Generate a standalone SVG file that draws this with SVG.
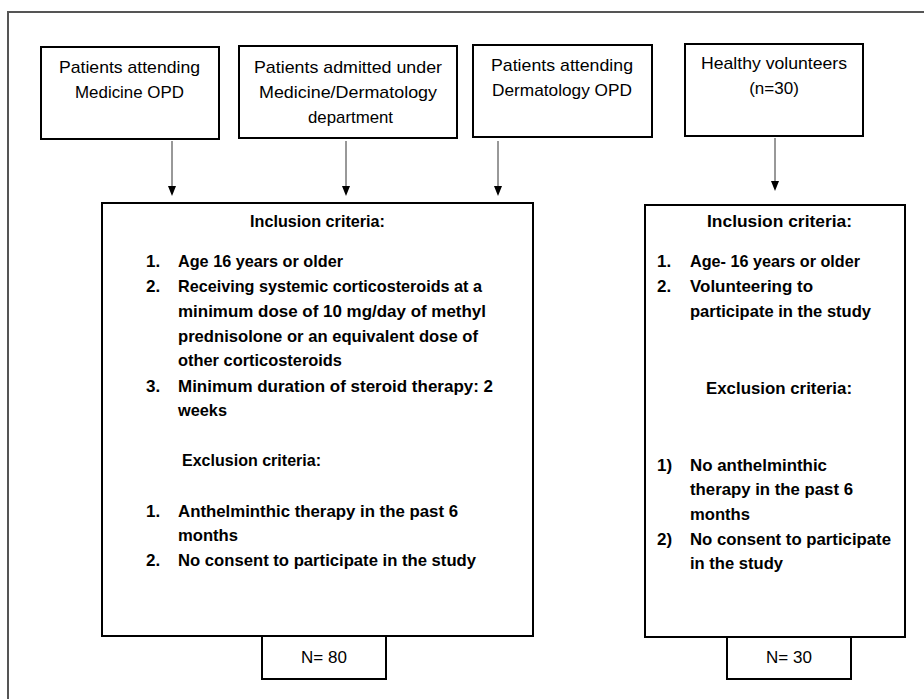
<svg xmlns="http://www.w3.org/2000/svg" width="924" height="699" viewBox="0 0 924 699">
<defs>
<style>
.box{fill:#fff;stroke:#000;stroke-width:2}
.t{font-family:"Liberation Sans",Arial,sans-serif;font-size:17px;fill:#000}
.c{text-anchor:middle}
.b{font-family:"Liberation Sans",Arial,sans-serif;font-size:17px;font-weight:bold;fill:#000}
.conn{stroke:#333;stroke-width:1;fill:none}
.head{fill:#000}
</style>
</defs>
<rect width="924" height="699" fill="#fff"/>
<path d="M8,699 L8,12 L924,12" fill="none" stroke="#555" stroke-width="2"/>

<g id="n1">
<rect class="box" x="41" y="47" width="178" height="92"/>
<text class="t" x="59" y="73" textLength="141" lengthAdjust="spacingAndGlyphs">Patients attending</text>
<text class="t" x="75" y="98" textLength="109" lengthAdjust="spacingAndGlyphs">Medicine OPD</text>
</g>
<g id="n2">
<rect class="box" x="239" y="46" width="218" height="92"/>
<text class="t" x="254" y="73" textLength="188" lengthAdjust="spacingAndGlyphs">Patients admitted under</text>
<text class="t" x="259" y="98" textLength="178" lengthAdjust="spacingAndGlyphs">Medicine/Dermatology</text>
<text class="t" x="308" y="123" textLength="85" lengthAdjust="spacingAndGlyphs">department</text>
</g>
<g id="n3">
<rect class="box" x="473" y="45" width="179" height="92"/>
<text class="t" x="491" y="71" textLength="142" lengthAdjust="spacingAndGlyphs">Patients attending</text>
<text class="t" x="492" y="96" textLength="140" lengthAdjust="spacingAndGlyphs">Dermatology OPD</text>
</g>
<g id="n4">
<rect class="box" x="685" y="44" width="178" height="92"/>
<text class="t" x="701" y="69" textLength="146" lengthAdjust="spacingAndGlyphs">Healthy volunteers</text>
<text class="t c" x="774" y="94">(n=30)</text>
</g>

<g id="connectors">
<line class="conn" x1="172" y1="141" x2="172" y2="187"/>
<path class="head" d="M168,186 L176,186 L172,196 Z"/>
<line class="conn" x1="346" y1="141" x2="346" y2="187"/>
<path class="head" d="M342,186 L350,186 L346,196 Z"/>
<line class="conn" x1="498" y1="141" x2="498" y2="187"/>
<path class="head" d="M494,186 L502,186 L498,196 Z"/>
<line class="conn" x1="775" y1="138" x2="775" y2="182"/>
<path class="head" d="M771,181 L779,181 L775,191 Z"/>
</g>

<g id="main">
<rect class="box" x="102" y="203" width="431" height="433"/>
<text class="b" x="250" y="227" textLength="135" lengthAdjust="spacingAndGlyphs">Inclusion criteria:</text>
<text class="b" x="146" y="267">1.</text><text class="b" x="178" y="267" textLength="165" lengthAdjust="spacingAndGlyphs">Age 16 years or older</text>
<text class="b" x="146" y="292">2.</text><text class="b" x="178" y="292" textLength="304" lengthAdjust="spacingAndGlyphs">Receiving systemic corticosteroids at a</text>
<text class="b" x="178" y="317" textLength="308" lengthAdjust="spacingAndGlyphs">minimum dose of 10 mg/day of methyl</text>
<text class="b" x="178" y="342" textLength="300" lengthAdjust="spacingAndGlyphs">prednisolone or an equivalent dose of</text>
<text class="b" x="178" y="366" textLength="164" lengthAdjust="spacingAndGlyphs">other corticosteroids</text>
<text class="b" x="146" y="392">3.</text><text class="b" x="178" y="392" textLength="315" lengthAdjust="spacingAndGlyphs">Minimum duration of steroid therapy: 2</text>
<text class="b" x="178" y="416" textLength="49" lengthAdjust="spacingAndGlyphs">weeks</text>
<text class="b" x="182" y="466" textLength="139" lengthAdjust="spacingAndGlyphs">Exclusion criteria:</text>
<text class="b" x="146" y="517">1.</text><text class="b" x="178" y="517" textLength="280" lengthAdjust="spacingAndGlyphs">Anthelminthic therapy in the past 6</text>
<text class="b" x="178" y="541" textLength="60" lengthAdjust="spacingAndGlyphs">months</text>
<text class="b" x="146" y="566">2.</text><text class="b" x="178" y="566" textLength="298" lengthAdjust="spacingAndGlyphs">No consent to participate in the study</text>
</g>

<g id="n80">
<rect class="box" x="262" y="636" width="124" height="43"/>
<text class="t c" x="324" y="663">N= 80</text>
</g>

<g id="right">
<rect class="box" x="645" y="205" width="260" height="432"/>
<text class="b" x="707" y="227" textLength="145" lengthAdjust="spacingAndGlyphs">Inclusion criteria:</text>
<text class="b" x="657" y="267">1.</text><text class="b" x="690" y="267" textLength="170" lengthAdjust="spacingAndGlyphs">Age- 16 years or older</text>
<text class="b" x="657" y="292">2.</text><text class="b" x="690" y="292" textLength="123" lengthAdjust="spacingAndGlyphs">Volunteering to</text>
<text class="b" x="690" y="317" textLength="181" lengthAdjust="spacingAndGlyphs">participate in the study</text>
<text class="b" x="706" y="394" textLength="146" lengthAdjust="spacingAndGlyphs">Exclusion criteria:</text>
<text class="b" x="657" y="471">1)</text><text class="b" x="690" y="471" textLength="137" lengthAdjust="spacingAndGlyphs">No anthelminthic</text>
<text class="b" x="690" y="495" textLength="163" lengthAdjust="spacingAndGlyphs">therapy in the past 6</text>
<text class="b" x="690" y="520" textLength="60" lengthAdjust="spacingAndGlyphs">months</text>
<text class="b" x="657" y="545">2)</text><text class="b" x="690" y="545" textLength="201" lengthAdjust="spacingAndGlyphs">No consent to participate</text>
<text class="b" x="690" y="569" textLength="93" lengthAdjust="spacingAndGlyphs">in the study</text>
</g>

<g id="n30">
<rect class="box" x="727" y="637" width="124" height="42"/>
<text class="t c" x="789" y="663">N= 30</text>
</g>
</svg>
